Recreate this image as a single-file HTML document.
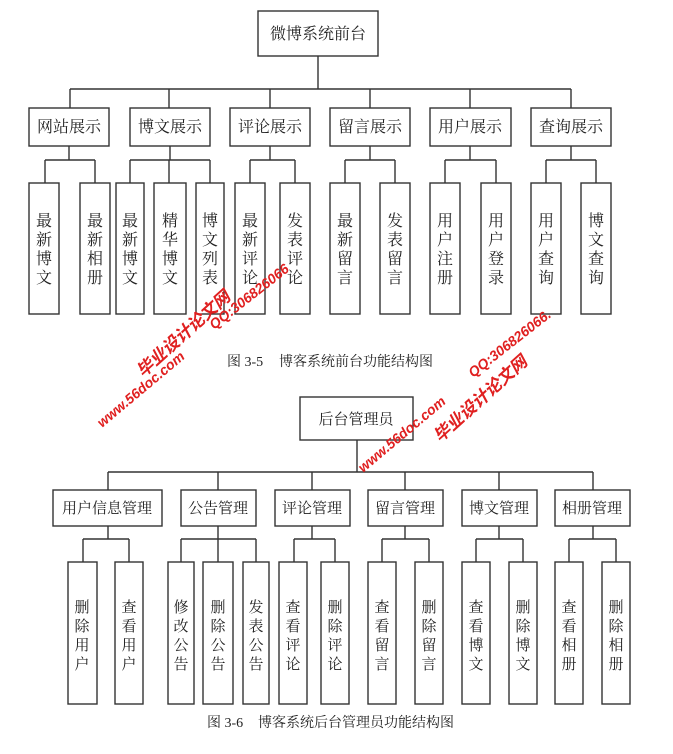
<!DOCTYPE html>
<html><head><meta charset="utf-8"><style>
html,body{margin:0;padding:0;background:#fff;}
svg{display:block;}
text{font-family:"Liberation Serif","Noto Serif CJK SC","Noto Sans CJK SC",serif;fill:#222;}
.b{fill:#fff;stroke:#333;stroke-width:1.4;}
.l{stroke:#333;stroke-width:1.4;fill:none;}
.w{font-family:"Liberation Sans","Noto Sans CJK SC",sans-serif;fill:#e02020;font-weight:bold;font-style:italic;}
</style></head><body>
<svg width="673" height="754" viewBox="0 0 673 754" xmlns="http://www.w3.org/2000/svg">
<!-- TOP -->
<rect class="b" x="258" y="11" width="120" height="45"/>
<text x="318" y="39" font-size="16" text-anchor="middle">微博系统前台</text>
<path class="l" d="M318 56V89M70 89H571M70 89V108M169 89V108M270 89V108M370 89V108M470 89V108M571 89V108"/>
<g font-size="16" text-anchor="middle">
<rect class="b" x="29" y="108" width="80" height="38"/><text x="69" y="132">网站展示</text>
<rect class="b" x="130" y="108" width="80" height="38"/><text x="170" y="132">博文展示</text>
<rect class="b" x="230" y="108" width="80" height="38"/><text x="270" y="132">评论展示</text>
<rect class="b" x="330" y="108" width="80" height="38"/><text x="370" y="132">留言展示</text>
<rect class="b" x="430" y="108" width="81" height="38"/><text x="470" y="132">用户展示</text>
<rect class="b" x="531" y="108" width="80" height="38"/><text x="571" y="132">查询展示</text>
</g>
<path class="l" d="M69 146V160M45 160H95M45 160V183M95 160V183
M170 146V160M130 160H210M130 160V183M169 160V183M210 160V183
M270 146V160M250 160H295M250 160V183M295 160V183
M370 146V160M345 160H395M345 160V183M395 160V183
M470 146V160M445 160H496M445 160V183M496 160V183
M571 146V160M546 160H596M546 160V183M596 160V183"/>
<g font-size="16" text-anchor="middle">
<rect class="b" x="29" y="183" width="30" height="131"/><text x="44" y="226">最</text><text x="44" y="245">新</text><text x="44" y="264">博</text><text x="44" y="283">文</text>
<rect class="b" x="80" y="183" width="30" height="131"/><text x="95" y="226">最</text><text x="95" y="245">新</text><text x="95" y="264">相</text><text x="95" y="283">册</text>
<rect class="b" x="116" y="183" width="28" height="131"/><text x="130" y="226">最</text><text x="130" y="245">新</text><text x="130" y="264">博</text><text x="130" y="283">文</text>
<rect class="b" x="154" y="183" width="32" height="131"/><text x="170" y="226">精</text><text x="170" y="245">华</text><text x="170" y="264">博</text><text x="170" y="283">文</text>
<rect class="b" x="196" y="183" width="28" height="131"/><text x="210" y="226">博</text><text x="210" y="245">文</text><text x="210" y="264">列</text><text x="210" y="283">表</text>
<rect class="b" x="235" y="183" width="30" height="131"/><text x="250" y="226">最</text><text x="250" y="245">新</text><text x="250" y="264">评</text><text x="250" y="283">论</text>
<rect class="b" x="280" y="183" width="30" height="131"/><text x="295" y="226">发</text><text x="295" y="245">表</text><text x="295" y="264">评</text><text x="295" y="283">论</text>
<rect class="b" x="330" y="183" width="30" height="131"/><text x="345" y="226">最</text><text x="345" y="245">新</text><text x="345" y="264">留</text><text x="345" y="283">言</text>
<rect class="b" x="380" y="183" width="30" height="131"/><text x="395" y="226">发</text><text x="395" y="245">表</text><text x="395" y="264">留</text><text x="395" y="283">言</text>
<rect class="b" x="430" y="183" width="30" height="131"/><text x="445" y="226">用</text><text x="445" y="245">户</text><text x="445" y="264">注</text><text x="445" y="283">册</text>
<rect class="b" x="481" y="183" width="30" height="131"/><text x="496" y="226">用</text><text x="496" y="245">户</text><text x="496" y="264">登</text><text x="496" y="283">录</text>
<rect class="b" x="531" y="183" width="30" height="131"/><text x="546" y="226">用</text><text x="546" y="245">户</text><text x="546" y="264">查</text><text x="546" y="283">询</text>
<rect class="b" x="581" y="183" width="30" height="131"/><text x="596" y="226">博</text><text x="596" y="245">文</text><text x="596" y="264">查</text><text x="596" y="283">询</text>
</g>
<text x="227" y="366" font-size="14">图 3-5</text><text x="279" y="366" font-size="14">博客系统前台功能结构图</text>

<!-- BOTTOM -->
<rect class="b" x="300" y="397" width="113" height="43"/>
<text x="356" y="424" font-size="15" text-anchor="middle">后台管理员</text>
<path class="l" d="M357 440V472M108 472H593M108 472V490M218 472V490M312 472V490M405 472V490M499 472V490M593 472V490"/>
<g font-size="15" text-anchor="middle">
<rect class="b" x="53" y="490" width="109" height="36"/><text x="107" y="513">用户信息管理</text>
<rect class="b" x="181" y="490" width="75" height="36"/><text x="218" y="513">公告管理</text>
<rect class="b" x="275" y="490" width="75" height="36"/><text x="312" y="513">评论管理</text>
<rect class="b" x="368" y="490" width="75" height="36"/><text x="405" y="513">留言管理</text>
<rect class="b" x="462" y="490" width="75" height="36"/><text x="499" y="513">博文管理</text>
<rect class="b" x="555" y="490" width="75" height="36"/><text x="592" y="513">相册管理</text>
</g>
<path class="l" d="M108 526V539M83 539H129M83 539V562M129 539V562
M218 526V539M181 539H256M181 539V562M218 539V562M256 539V562
M312 526V539M294 539H335M294 539V562M335 539V562
M405 526V539M382 539H429M382 539V562M429 539V562
M499 526V539M476 539H523M476 539V562M523 539V562
M593 526V539M569 539H616M569 539V562M616 539V562"/>
<g font-size="15" text-anchor="middle">
<rect class="b" x="68" y="562" width="29" height="142"/><text x="82" y="612">删</text><text x="82" y="631">除</text><text x="82" y="650">用</text><text x="82" y="669">户</text>
<rect class="b" x="115" y="562" width="28" height="142"/><text x="129" y="612">查</text><text x="129" y="631">看</text><text x="129" y="650">用</text><text x="129" y="669">户</text>
<rect class="b" x="168" y="562" width="26" height="142"/><text x="181" y="612">修</text><text x="181" y="631">改</text><text x="181" y="650">公</text><text x="181" y="669">告</text>
<rect class="b" x="203" y="562" width="30" height="142"/><text x="218" y="612">删</text><text x="218" y="631">除</text><text x="218" y="650">公</text><text x="218" y="669">告</text>
<rect class="b" x="243" y="562" width="26" height="142"/><text x="256" y="612">发</text><text x="256" y="631">表</text><text x="256" y="650">公</text><text x="256" y="669">告</text>
<rect class="b" x="279" y="562" width="28" height="142"/><text x="293" y="612">查</text><text x="293" y="631">看</text><text x="293" y="650">评</text><text x="293" y="669">论</text>
<rect class="b" x="321" y="562" width="28" height="142"/><text x="335" y="612">删</text><text x="335" y="631">除</text><text x="335" y="650">评</text><text x="335" y="669">论</text>
<rect class="b" x="368" y="562" width="28" height="142"/><text x="382" y="612">查</text><text x="382" y="631">看</text><text x="382" y="650">留</text><text x="382" y="669">言</text>
<rect class="b" x="415" y="562" width="28" height="142"/><text x="429" y="612">删</text><text x="429" y="631">除</text><text x="429" y="650">留</text><text x="429" y="669">言</text>
<rect class="b" x="462" y="562" width="28" height="142"/><text x="476" y="612">查</text><text x="476" y="631">看</text><text x="476" y="650">博</text><text x="476" y="669">文</text>
<rect class="b" x="509" y="562" width="28" height="142"/><text x="523" y="612">删</text><text x="523" y="631">除</text><text x="523" y="650">博</text><text x="523" y="669">文</text>
<rect class="b" x="555" y="562" width="28" height="142"/><text x="569" y="612">查</text><text x="569" y="631">看</text><text x="569" y="650">相</text><text x="569" y="669">册</text>
<rect class="b" x="602" y="562" width="28" height="142"/><text x="616" y="612">删</text><text x="616" y="631">除</text><text x="616" y="650">相</text><text x="616" y="669">册</text>
</g>
<text x="207" y="727" font-size="14">图 3-6</text><text x="258" y="727" font-size="14">博客系统后台管理员功能结构图</text>

<!-- watermarks -->
<g class="w">
<text class="w" font-size="17" transform="translate(143,378) rotate(-42)">毕业设计论文网</text>
<text class="w" font-size="14" transform="translate(214,330) rotate(-38)">QQ:306826066</text>
<text class="w" font-size="14" transform="translate(102,428) rotate(-40)">www.56doc.com</text>
<text class="w" font-size="14" transform="translate(473,378) rotate(-38)">QQ:306826066.</text>
<text class="w" font-size="14" transform="translate(363,473) rotate(-40)">www.56doc.com</text>
<text class="w" font-size="17" transform="translate(440,443) rotate(-42)">毕业设计论文网</text>
</g>
</svg>
</body></html>
